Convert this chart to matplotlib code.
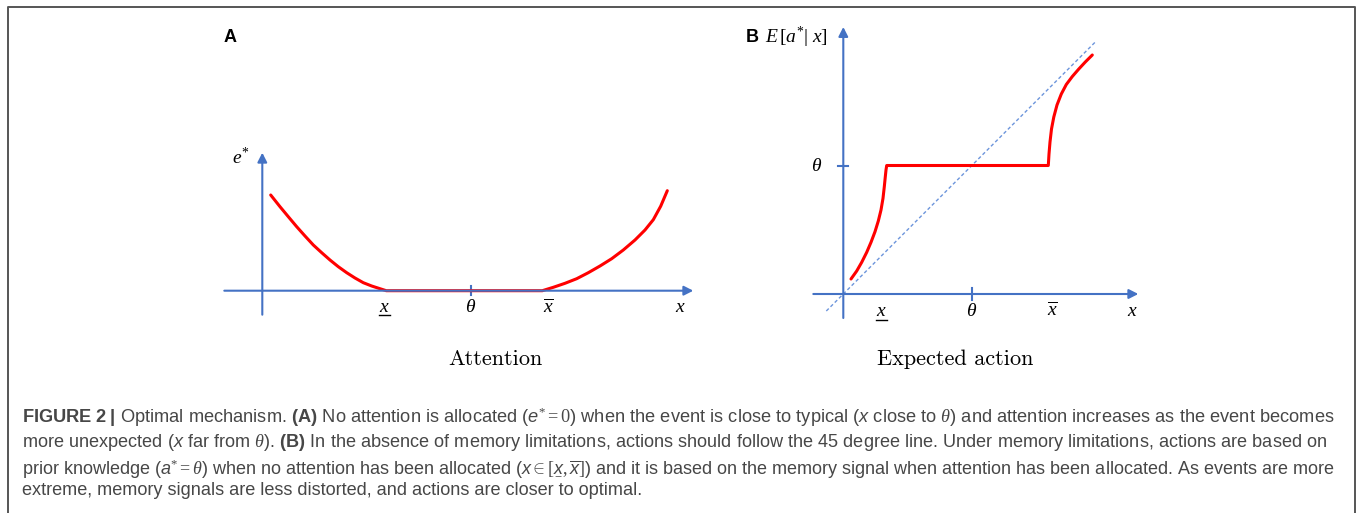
import matplotlib
matplotlib.use('Agg')
import matplotlib.pyplot as plt
from matplotlib.lines import Line2D

plt.rcParams['font.family'] = ['Liberation Sans', 'DejaVu Sans']
plt.rcParams['mathtext.fontset'] = 'custom'
plt.rcParams['mathtext.rm'] = 'Liberation Serif'
plt.rcParams['mathtext.it'] = 'Liberation Serif:italic'
plt.rcParams['mathtext.sf'] = 'Liberation Sans:italic'
plt.rcParams['mathtext.bf'] = 'Liberation Sans:bold'

W, H = 1357, 513
BLUE = '#4472c4'
RED = '#ff0000'
CAP = '#474747'

# panel A : optimal attention e*(x)   (units: arbitrary)
a_x_lo, a_theta, a_x_hi = 124, 208.7, 280
a_left_x = [8.4, 17.7, 26.0, 34.4, 42.7, 51.0, 59.4, 67.7, 76.0, 84.4, 92.7,
            101.0, 109.4, 117.7, 124]
a_left_y = [95.7, 84.0, 74.0, 64.0, 54.7, 45.7, 38.0, 30.7, 24.0, 18.0, 12.7,
            8.0, 4.7, 2.0, 0]
a_right_x = [280, 291, 302.7, 314.4, 326, 337.7, 349.4, 361, 372.7, 382.7,
             391, 398.4, 405]
a_right_y = [0, 3.4, 7.4, 12.0, 18.0, 24.7, 32.0, 40.7, 50.7, 60.7, 71.0,
             84.5, 100]

# panel B : expected action E[a*|x]
b_x_lo, b_theta, b_x_hi = 43.4, 128.5, 205
b_left_x = [7.7, 13.4, 18.4, 23.4, 27.7, 31.7, 35, 37.7, 39.7, 41, 42, 42.7,
            43.4]
b_left_y = [15, 23, 31.7, 41.7, 51.7, 62.3, 73, 84, 95.7, 107.3, 117.3, 124,
            128.5]
b_right_x = [205, 205.7, 206.7, 208.2, 210.5, 213.7, 218, 223, 229, 235.5,
             242, 249]
b_right_y = [128.5, 140, 152, 165, 177, 189, 200, 209.5, 217.5, 225, 232, 239]
diag = [-17, 253]

caption = [
    r"$\mathbf{FIGURE\ 2\ |}$ Optimal mechanism. $\mathbf{(A)}$ No attention is allocated ($\mathsf{e}^{*}=0$) when the event is close to typical ($\mathsf{x}$ close to $\theta$) and attention increases as the event becomes",
    r"more unexpected ($\mathsf{x}$ far from $\theta$). $\mathbf{(B)}$ In the absence of memory limitations, actions should follow the 45 degree line. Under memory limitations, actions are based on",
    r"prior knowledge ($\mathsf{a}^{*}=\theta$) when no attention has been allocated ($\mathsf{x}\in[\underset{-}{\mathsf{x}},\overline{\mathsf{x}}]$) and it is based on the memory signal when attention has been allocated. As events are more",
    "extreme, memory signals are less distorted, and actions are closer to optimal.",
]

fig = plt.figure(figsize=(W / 100, H / 100), dpi=100)


def panel(x0, y0, x1, y1, ox, oy):
    ax = fig.add_axes([x0 / W, 1 - y1 / H, (x1 - x0) / W, (y1 - y0) / H])
    ax.set_xlim(x0 - ox, x1 - ox)
    ax.set_ylim(oy - y1, oy - y0)
    ax.axis('off')
    return ax


def arrow(ax, start, end):
    ax.annotate('', xy=end, xytext=start,
                arrowprops=dict(arrowstyle='-|>,head_length=0.55,head_width=0.28',
                                color=BLUE, lw=1.5, shrinkA=0, shrinkB=0,
                                mutation_scale=10))


def lab(ax, x, y, s, under=False, size=14):
    ax.text(x, y, s, fontsize=size, ha='center', va='center')
    if under:
        ax.plot([x - 5.5, x + 5.5], [y - 7.5, y - 7.5], color='black', lw=1.0)


# ---- A
axA = panel(200, 20, 720, 380, 262.3, 290.7)
arrow(axA, (-38, 0), (431, 0))
arrow(axA, (0, -24), (0, 138))
axA.plot([a_theta, a_theta], [-4, 5], color=BLUE, lw=1.5)
axA.plot(a_left_x + a_right_x, a_left_y + a_right_y, color=RED, lw=2.2,
         solid_capstyle='round', solid_joinstyle='round')
lab(axA, -21.3, 133.7, r"$e^{*}$")
lab(axA, a_x_lo - 2.3, -17.3, r"$x$", under=True)
lab(axA, a_theta, -16.3, r"$\theta$")
lab(axA, a_x_hi + 5.7, -16.3, r"$\overline{x}$")
lab(axA, 417.7, -17.3, r"$x$")
axA.text(232.7, -68.3, "Attention", fontfamily='cmr10', fontsize=16,
         ha='center', va='center')
fig.text(230 / W, 1 - 37 / H, "A", fontsize=13, fontweight='bold',
         ha='center', va='center')

# ---- B
axB = panel(720, 20, 1160, 380, 843.3, 294)
arrow(axB, (-30, 0), (295, 0))
arrow(axB, (0, -24), (0, 267))
axB.plot([b_theta, b_theta], [-6, 6], color=BLUE, lw=1.5)
axB.plot([-5.3, 4.7], [b_theta, b_theta], color=BLUE, lw=1.5)
axB.plot(diag, diag, color='#6d95dc', lw=1.0, dashes=(2.5, 1.8))
axB.plot(b_left_x + b_right_x, b_left_y + b_right_y, color=RED, lw=2.2,
         solid_capstyle='round', solid_joinstyle='round')
lab(axB, -26.3, b_theta - 1, r"$\theta$")
lab(axB, 37.7, -18, r"$x$", under=True)
lab(axB, b_theta, -18, r"$\theta$")
lab(axB, 208.7, -16, r"$\overline{x}$")
lab(axB, 288.7, -18, r"$x$")
axB.text(111.7, -65, "Expected action", fontfamily='cmr10', fontsize=16,
         ha='center', va='center')
fig.text(752 / W, 1 - 37 / H, "B", fontsize=13, fontweight='bold',
         ha='center', va='center')
fig.text(796 / W, 1 - 37 / H, r"$E\,[a^{*}|\ x]$", fontsize=14,
         ha='center', va='center')

# ---- border
fig.add_artist(Line2D([8 / W, 8 / W, 1355 / W, 1355 / W],
                      [0, 1 - 6.5 / H, 1 - 6.5 / H, 0],
                      transform=fig.transFigure, color='#555555', lw=1.4))

# ---- caption (lines 1-3 are justified in the original, so fit each width)
base = [423, 447, 471, 495]
target = [1311, 1305, 1311, None]
texts = []
for s, yb in zip(caption, base):
    texts.append(fig.text(22 / W, 1 - yb / H, s, fontsize=12, color=CAP,
                          ha='left', va='baseline'))
r = fig.canvas.get_renderer()
sizes = []
for t, tw in zip(texts[:3], target[:3]):
    sizes.append(12 * tw / t.get_window_extent(r).width)
for t, fs in zip(texts, sizes + [sum(sizes) / 3]):
    t.set_fontsize(fs)

fig.savefig('out.png', dpi=100)
